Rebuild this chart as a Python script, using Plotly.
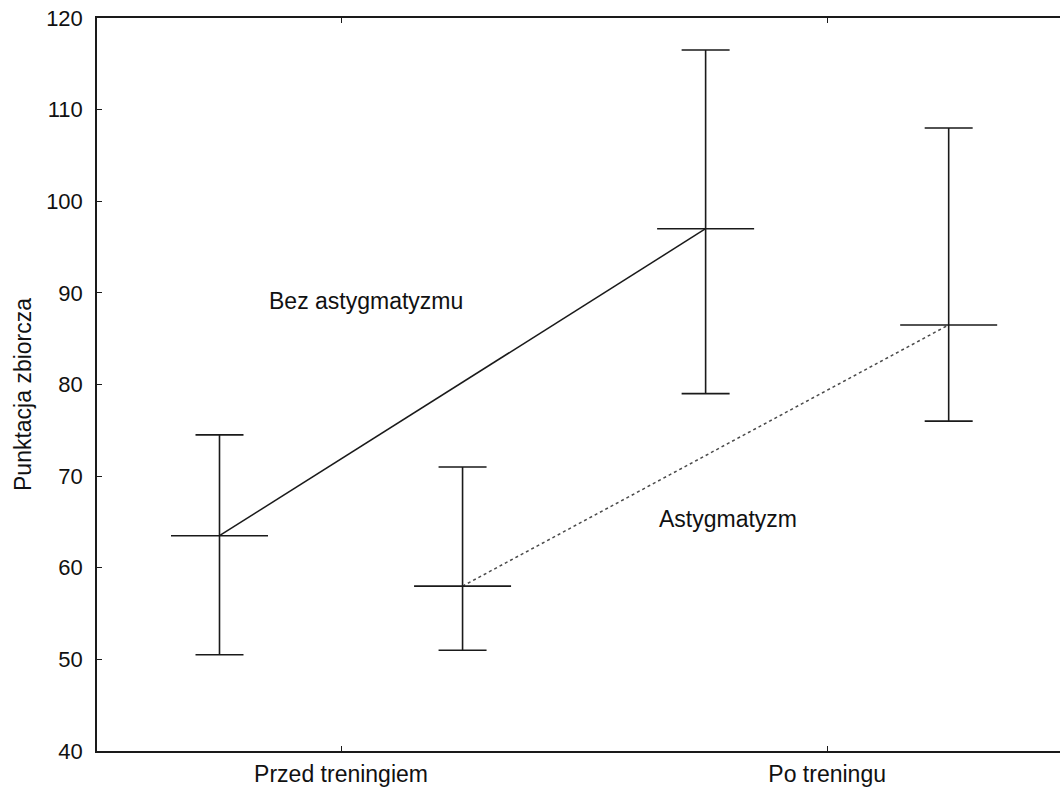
import plotly.graph_objects as go

# Data
categories = ["Przed treningiem", "Po treningu"]
cat_pos = [0, 1]
groups = ["Bez astygmatyzmu", "Astygmatyzm"]
group_offset = [-0.25, 0.25]
means_bez = [63.5, 97.0]
upper_bez = [74.5, 116.5]
lower_bez = [50.5, 79.0]
means_ast = [58.0, 86.5]
upper_ast = [71.0, 108.0]
lower_ast = [51.0, 76.0]
y_ticks = [40, 50, 60, 70, 80, 90, 100, 110, 120]

FONT = "Liberation Sans, Arial, sans-serif"
INK = "#1a1a1a"

fig = go.Figure()

series = [
    (groups[0], means_bez, upper_bez, lower_bez, group_offset[0], "solid", INK, 1.5),
    (groups[1], means_ast, upper_ast, lower_ast, group_offset[1], "3px,3px", "#4a4a4a", 1.5),
]
for name, m, up, lo, off, dash, lcol, lw in series:
    xs = [c + off for c in cat_pos]
    fig.add_trace(go.Scatter(
        x=xs, y=m, name=name, mode="lines+markers",
        line=dict(color=lcol, width=lw, dash=dash),
        marker=dict(symbol="line-ew", size=97 / 1.4, color=INK,
                    line=dict(color=INK, width=1.6)),
        error_y=dict(type="data", symmetric=False,
                     array=[u - v for u, v in zip(up, m)],
                     arrayminus=[v - l for v, l in zip(m, lo)],
                     color=INK, thickness=1.6, width=24),
        showlegend=False,
    ))

fig.add_annotation(x=-0.152, y=89.1, xref="x", yref="y", text=groups[0],
                   showarrow=False, xanchor="left", yanchor="middle",
                   font=dict(family=FONT, size=23, color="#111"))
fig.add_annotation(x=0.651, y=65.3, xref="x", yref="y", text=groups[1],
                   showarrow=False, xanchor="left", yanchor="middle",
                   font=dict(family=FONT, size=23, color="#111"))
fig.add_annotation(x=0, xshift=-74, y=(751 - 395) / 733, xref="paper", yref="paper",
                   text="Punktacja zbiorcza", textangle=-90, showarrow=False,
                   xanchor="center", yanchor="middle",
                   font=dict(family=FONT, size=23, color="#111"))

fig.update_layout(
    width=1060, height=789,
    margin=dict(l=97, r=0, t=18, b=38),
    paper_bgcolor="white", plot_bgcolor="white",
    font=dict(family=FONT, size=22, color="#111"),
    xaxis=dict(range=[-0.502, 1.479], tickvals=cat_pos, ticktext=categories,
               showgrid=False, zeroline=False, showline=True, linecolor=INK,
               linewidth=1.5, mirror="ticks", ticks="inside", ticklen=5,
               tickcolor=INK, tickwidth=1.2, ticklabelstandoff=2,
               tickfont=dict(family=FONT, size=23, color="#111")),
    yaxis=dict(range=[40, 120], tickvals=y_ticks, showgrid=False,
               zeroline=False, showline=True, linecolor=INK, linewidth=1.5,
               ticks="inside", ticklen=5, tickcolor=INK, tickwidth=1.2,
               ticklabelstandoff=8),
)

fig.write_html("out.html")
